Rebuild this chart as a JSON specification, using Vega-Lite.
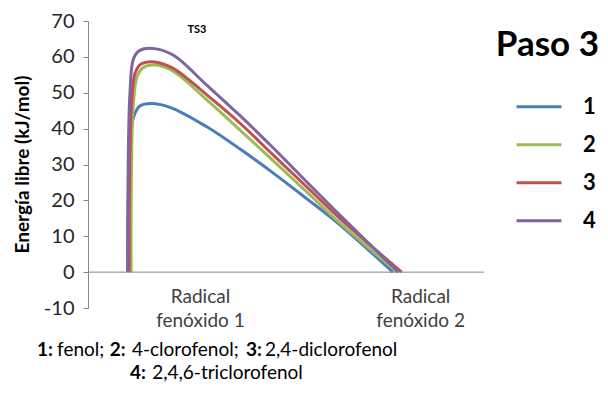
{
  "$schema": "https://vega.github.io/schema/vega-lite/v6.json",
  "width": 396,
  "height": 287,
  "autosize": {"type": "none"},
  "padding": {"left": 88, "top": 21, "right": 124, "bottom": 90},
  "background": "white",
  "config": {
    "view": {"stroke": null},
    "font": "Lato",
    "axisY": {"labelOverlap": false, "tickCount": 9, "grid": false},
    "legend": {
      "orient": "none",
      "legendX": 427,
      "legendY": 67,
      "title": null,
      "symbolType": "stroke",
      "symbolSize": 2025,
      "symbolStrokeWidth": 3,
      "clipHeight": 37.5,
      "rowPadding": 0,
      "labelFont": "Lato",
      "labelFontSize": 22,
      "labelFontWeight": "bold",
      "labelColor": "#000000",
      "labelOffset": 20
    }
  },
  "datasets": {
    "cero": [{"x": 0, "x2": 10, "y": 0}],
    "curvas": [
      {"serie": "1", "paso": 1, "x": 1.01, "energia": 0},
      {"serie": "1", "paso": 2, "x": 1.02, "energia": 20},
      {"serie": "1", "paso": 3, "x": 1.07, "energia": 37},
      {"serie": "1", "paso": 4, "x": 1.16, "energia": 43.5},
      {"serie": "1", "paso": 5, "x": 1.31, "energia": 46.3},
      {"serie": "1", "paso": 6, "x": 1.64, "energia": 47},
      {"serie": "1", "paso": 7, "x": 2.15, "energia": 45.6},
      {"serie": "1", "paso": 8, "x": 3.00, "energia": 40.5},
      {"serie": "1", "paso": 9, "x": 3.84, "energia": 34.3},
      {"serie": "1", "paso": 10, "x": 4.68, "energia": 27.6},
      {"serie": "1", "paso": 11, "x": 5.52, "energia": 20.5},
      {"serie": "1", "paso": 12, "x": 6.36, "energia": 13.2},
      {"serie": "1", "paso": 13, "x": 7.70, "energia": 0},
      {"serie": "2", "paso": 1, "x": 1.09, "energia": 0},
      {"serie": "2", "paso": 2, "x": 1.095, "energia": 25},
      {"serie": "2", "paso": 3, "x": 1.14, "energia": 46},
      {"serie": "2", "paso": 4, "x": 1.24, "energia": 54.5},
      {"serie": "2", "paso": 5, "x": 1.39, "energia": 57},
      {"serie": "2", "paso": 6, "x": 1.70, "energia": 57.7},
      {"serie": "2", "paso": 7, "x": 2.15, "energia": 56},
      {"serie": "2", "paso": 8, "x": 3.00, "energia": 48},
      {"serie": "2", "paso": 9, "x": 3.84, "energia": 39.6},
      {"serie": "2", "paso": 10, "x": 4.68, "energia": 31},
      {"serie": "2", "paso": 11, "x": 5.52, "energia": 22.4},
      {"serie": "2", "paso": 12, "x": 6.36, "energia": 13.7},
      {"serie": "2", "paso": 13, "x": 7.81, "energia": 0},
      {"serie": "3", "paso": 1, "x": 1.04, "energia": 0},
      {"serie": "3", "paso": 2, "x": 1.05, "energia": 25},
      {"serie": "3", "paso": 3, "x": 1.10, "energia": 47},
      {"serie": "3", "paso": 4, "x": 1.19, "energia": 55.5},
      {"serie": "3", "paso": 5, "x": 1.34, "energia": 58},
      {"serie": "3", "paso": 6, "x": 1.68, "energia": 58.6},
      {"serie": "3", "paso": 7, "x": 2.15, "energia": 56.8},
      {"serie": "3", "paso": 8, "x": 3.00, "energia": 49.4},
      {"serie": "3", "paso": 9, "x": 3.84, "energia": 41.5},
      {"serie": "3", "paso": 10, "x": 4.68, "energia": 32.6},
      {"serie": "3", "paso": 11, "x": 5.52, "energia": 23.8},
      {"serie": "3", "paso": 12, "x": 6.36, "energia": 15},
      {"serie": "3", "paso": 13, "x": 7.92, "energia": 0},
      {"serie": "4", "paso": 1, "x": 1.00, "energia": 0},
      {"serie": "4", "paso": 2, "x": 1.01, "energia": 25},
      {"serie": "4", "paso": 3, "x": 1.06, "energia": 50},
      {"serie": "4", "paso": 4, "x": 1.15, "energia": 59.5},
      {"serie": "4", "paso": 5, "x": 1.31, "energia": 61.8},
      {"serie": "4", "paso": 6, "x": 1.68, "energia": 62.3},
      {"serie": "4", "paso": 7, "x": 2.15, "energia": 60.5},
      {"serie": "4", "paso": 8, "x": 3.00, "energia": 52.1},
      {"serie": "4", "paso": 9, "x": 3.84, "energia": 43.6},
      {"serie": "4", "paso": 10, "x": 4.68, "energia": 34.6},
      {"serie": "4", "paso": 11, "x": 5.52, "energia": 25.2},
      {"serie": "4", "paso": 12, "x": 6.36, "energia": 15.9},
      {"serie": "4", "paso": 13, "x": 7.84, "energia": 0}
    ],
    "anotaciones": [
      {"tipo": "ts", "x": 2.75, "y": 67.5, "texto": "TS3"},
      {"tipo": "paso", "x": 11.6, "y": 63.3, "texto": "Paso 3"},
      {"tipo": "eje", "x": 2.84, "y": -4.4, "texto": "Radical|fenóxido 1"},
      {"tipo": "eje", "x": 8.4, "y": -4.4, "texto": "Radical|fenóxido 2"},
      {"tipo": "nota_b", "x": -1.288, "y": -21.75, "texto": "1:"},
      {"tipo": "nota_r", "x": -0.78, "y": -21.75, "texto": "fenol;"},
      {"tipo": "nota_b", "x": 0.55, "y": -21.75, "texto": "2:"},
      {"tipo": "nota_r", "x": 1.11, "y": -21.75, "texto": "4-clorofenol;"},
      {"tipo": "nota_b", "x": 3.99, "y": -21.75, "texto": "3:"},
      {"tipo": "nota_r", "x": 4.47, "y": -21.75, "texto": "2,4-diclorofenol"},
      {"tipo": "nota_b", "x": 1.061, "y": -28.17, "texto": "4:"},
      {"tipo": "nota_r", "x": 1.62, "y": -28.17, "texto": "2,4,6-triclorofenol"}
    ]
  },
  "layer": [
    {
      "data": {"name": "curvas"},
      "mark": {"type": "line", "interpolate": "catmull-rom", "strokeWidth": 3, "clip": false},
      "encoding": {
        "x": {"field": "x", "type": "quantitative", "scale": {"domain": [0, 10], "nice": false, "zero": false}, "axis": null},
        "y": {
          "field": "energia", "type": "quantitative",
          "scale": {"domain": [-10, 70], "nice": false, "zero": false},
          "axis": {
            "title": "Energía libre (kJ/mol)",
            "values": [-10, 0, 10, 20, 30, 40, 50, 60, 70],
            "labelExpr": "'' + datum.value",
            "labelOverlap": false,
            "grid": false,
            "domainColor": "#868686",
            "tickColor": "#868686",
            "tickSize": 5,
            "labelPadding": 9,
            "labelFont": "Lato",
            "labelFontSize": 20,
            "labelColor": "#262626",
            "titleFont": "Lato",
            "titleFontSize": 19,
            "titleFontWeight": "bold",
            "titleColor": "#000000",
            "titleX": -66,
            "titleY": 143,
            "titleAngle": 270,
            "titleAlign": "center",
            "titleBaseline": "middle"
          }
        },
        "order": {"field": "paso", "type": "quantitative"},
        "color": {
          "field": "serie", "type": "nominal",
          "scale": {"domain": ["1", "2", "3", "4"], "range": ["#4A7EBB", "#9BBB59", "#C0504D", "#8064A2"]}
        }
      }
    },
    {
      "data": {"name": "cero"},
      "mark": {"type": "rule", "color": "#868686", "strokeWidth": 1},
      "encoding": {
        "x": {"field": "x", "type": "quantitative"},
        "x2": {"field": "x2"},
        "y": {"field": "y", "type": "quantitative"}
      }
    },
    {
      "data": {"name": "anotaciones"},
      "transform": [{"filter": "datum.tipo === 'ts'"}],
      "mark": {"type": "text", "font": "Lato", "fontSize": 11, "fontWeight": "bold", "color": "#000000", "align": "center", "baseline": "middle"},
      "encoding": {"x": {"field": "x", "type": "quantitative"}, "y": {"field": "y", "type": "quantitative"}, "text": {"field": "texto"}}
    },
    {
      "data": {"name": "anotaciones"},
      "transform": [{"filter": "datum.tipo === 'paso'"}],
      "mark": {"type": "text", "font": "Lato", "fontSize": 35, "fontWeight": "bold", "color": "#000000", "align": "center", "baseline": "middle"},
      "encoding": {"x": {"field": "x", "type": "quantitative"}, "y": {"field": "y", "type": "quantitative"}, "text": {"field": "texto"}}
    },
    {
      "data": {"name": "anotaciones"},
      "transform": [{"filter": "datum.tipo === 'eje'"}],
      "mark": {"type": "text", "font": "Lato", "fontSize": 19, "color": "#404040", "align": "center", "baseline": "top", "lineBreak": "|", "lineHeight": 24},
      "encoding": {"x": {"field": "x", "type": "quantitative"}, "y": {"field": "y", "type": "quantitative"}, "text": {"field": "texto"}}
    },
    {
      "data": {"name": "anotaciones"},
      "transform": [{"filter": "datum.tipo === 'nota_b'"}],
      "mark": {"type": "text", "font": "Lato", "fontSize": 19, "fontWeight": "bold", "color": "#000000", "align": "left", "baseline": "middle"},
      "encoding": {"x": {"field": "x", "type": "quantitative"}, "y": {"field": "y", "type": "quantitative"}, "text": {"field": "texto"}}
    },
    {
      "data": {"name": "anotaciones"},
      "transform": [{"filter": "datum.tipo === 'nota_r'"}],
      "mark": {"type": "text", "font": "Lato", "fontSize": 19, "color": "#000000", "align": "left", "baseline": "middle"},
      "encoding": {"x": {"field": "x", "type": "quantitative"}, "y": {"field": "y", "type": "quantitative"}, "text": {"field": "texto"}}
    }
  ]
}
